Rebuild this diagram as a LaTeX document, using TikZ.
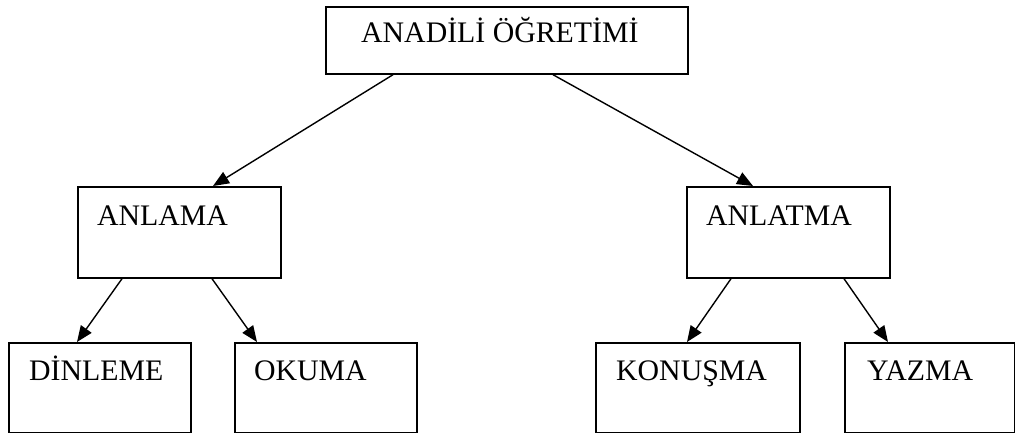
\documentclass[tikz,border=0pt]{standalone}
\usepackage{fontspec}
\setmainfont{Liberation Serif}
\usetikzlibrary{arrows.meta}
\begin{document}
\begin{tikzpicture}[x=1pt,y=-1pt,
  box/.style={draw, line width=1.7pt, rectangle, inner sep=0pt, anchor=north west},
  lbl/.style={anchor=base west, inner sep=0pt, font=\fontsize{29.8}{32}\selectfont},
  arr/.style={line width=1.4pt, -{Triangle[length=16pt,width=13pt]}}]
\useasboundingbox (0,0) rectangle (1015,433);
% boxes
\node[box, minimum width=362pt, minimum height=67pt] (top) at (325,6) {};
\node[box, minimum width=203pt, minimum height=91pt] (anlama) at (77,186) {};
\node[box, minimum width=203pt, minimum height=91pt] (anlatma) at (686,186) {};
\node[box, minimum width=182pt, minimum height=90pt] (dinleme) at (8,342) {};
\node[box, minimum width=182pt, minimum height=90pt] (okuma) at (234,342) {};
\node[box, minimum width=204pt, minimum height=90pt] (konusma) at (595,342) {};
\node[box, minimum width=170pt, minimum height=90pt] (yazma) at (844,342) {};
% labels
\node[lbl] (ttop) at (361,43) {ANADİLİ ÖĞRETİMİ};
\node[lbl] (tanlama) at (97,225) {ANLAMA};
\node[lbl] (tanlatma) at (706,225) {ANLATMA};
\node[lbl] (tdinleme) at (29,380) {DİNLEME};
\node[lbl] (tokuma) at (254,380) {OKUMA};
\node[lbl] (tkonusma) at (616,380) {KONUŞMA};
\node[lbl] (tyazma) at (867,380) {YAZMA};
% connectors
\draw[arr] ([xshift=68pt]top.south west) -- ([xshift=136pt]anlama.north west);
\draw[arr] ([xshift=228pt]top.south west) -- ([xshift=67pt]anlatma.north west);
\draw[arr] ([xshift=45pt]anlama.south west) -- ([xshift=69pt]dinleme.north west);
\draw[arr] ([xshift=135pt]anlama.south west) -- ([xshift=23pt]okuma.north west);
\draw[arr] ([xshift=45pt]anlatma.south west) -- ([xshift=92pt]konusma.north west);
\draw[arr] ([xshift=158pt]anlatma.south west) -- ([xshift=44pt]yazma.north west);
\end{tikzpicture}
\end{document}
